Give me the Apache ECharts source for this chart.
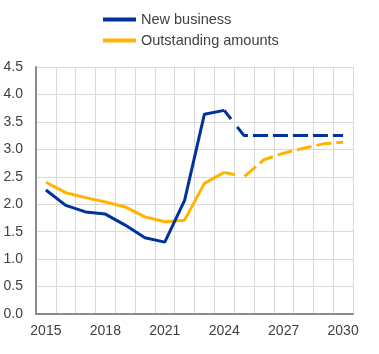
<!DOCTYPE html>
<html>
  <head>
    <meta charset="utf-8" />
    <title>New business vs outstanding amounts</title>
    <script src="https://cdn.jsdelivr.net/npm/echarts@6/dist/echarts.min.js"></script>
    <style type="text/css">
      body { margin: 0; background: #fff; }
      #chart { width: 379px; height: 354px; }
    </style>
  </head>
  <body>
    <div id="chart"></div>
    <script type="text/javascript">
      // years on the x axis
      var years = ['2015','2016','2017','2018','2019','2020','2021','2022',
                   '2023','2024','2025','2026','2027','2028','2029','2030'];
      // actual values (2015-2024)
      var newBusiness = [2.26, 1.98, 1.86, 1.82, 1.62, 1.39, 1.31, 2.07, 3.64, 3.71];
      var outstanding = [2.40, 2.21, 2.12, 2.04, 1.95, 1.77, 1.68, 1.71, 2.38, 2.58];
      // projections (2024-2030)
      var newBusinessProj = [3.71, 3.25, 3.25, 3.25, 3.25, 3.25, 3.25];
      var outstandingProj = [2.58, 2.50, 2.81, 2.93, 3.02, 3.10, 3.13];

      var blue = '#003299';
      var yellow = '#ffb400';
      var font = 'Liberation Sans, Arial, sans-serif';

      // solid part first, then padded with nulls
      function actual(arr) {
        var out = arr.slice();
        while (out.length < years.length) out.push(null);
        return out;
      }
      // projection starts at 2024
      function projection(arr) {
        var out = [];
        while (out.length + arr.length < years.length) out.push(null);
        return out.concat(arr);
      }
      // first dash continues the solid line a bit, then regular dashes
      var dash = [11, 10];
      for (var i = 0; i < 30; i++) dash.push(15, 5);

      var chart = echarts.init(document.getElementById('chart'));
      var option = {
        animation: false,
        textStyle: { fontFamily: font },
        legend: {
          left: 103,
          top: 12,
          padding: 0,
          orient: 'vertical',
          itemGap: 6,
          itemWidth: 33,
          itemHeight: 4,
          icon: 'rect',
          data: ['New business', 'Outstanding amounts'],
          textStyle: { fontSize: 14.5, color: '#404040', fontFamily: font }
        },
        grid: { left: 36, right: 26, top: 67, bottom: 40, containLabel: false },
        xAxis: {
          type: 'category',
          data: years,
          boundaryGap: true,
          axisLine: { lineStyle: { color: '#8c8c8c', width: 2 } },
          axisTick: { show: false },
          axisLabel: { interval: 2, fontSize: 14, color: '#404040', margin: 10 },
          splitLine: { show: true, interval: 0, lineStyle: { color: '#d9d9d9', width: 1 } }
        },
        yAxis: {
          type: 'value',
          min: 0,
          max: 4.5,
          interval: 0.5,
          axisLine: { show: true, lineStyle: { color: '#8c8c8c', width: 2 } },
          axisTick: { show: false },
          axisLabel: {
            fontSize: 14, color: '#404040', margin: 13,
            formatter: function (v) { return v.toFixed(1); }
          },
          splitLine: { lineStyle: { color: '#d9d9d9', width: 1 } }
        },
        series: [
          {
            name: 'Outstanding amounts', type: 'line', data: actual(outstanding),
            showSymbol: false, symbol: 'none', color: yellow,
            lineStyle: { color: yellow, width: 3 }
          },
          {
            name: 'Outstanding amounts proj', type: 'line', data: projection(outstandingProj),
            showSymbol: false, symbol: 'none', color: yellow,
            lineStyle: { color: yellow, width: 3, type: dash }
          },
          {
            name: 'New business', type: 'line', data: actual(newBusiness),
            showSymbol: false, symbol: 'none', color: blue,
            lineStyle: { color: blue, width: 3 }
          },
          {
            name: 'New business proj', type: 'line', data: projection(newBusinessProj),
            showSymbol: false, symbol: 'none', color: blue,
            lineStyle: { color: blue, width: 3, type: dash }
          }
        ]
      };
      chart.setOption(option);
    </script>
  </body>
</html>
